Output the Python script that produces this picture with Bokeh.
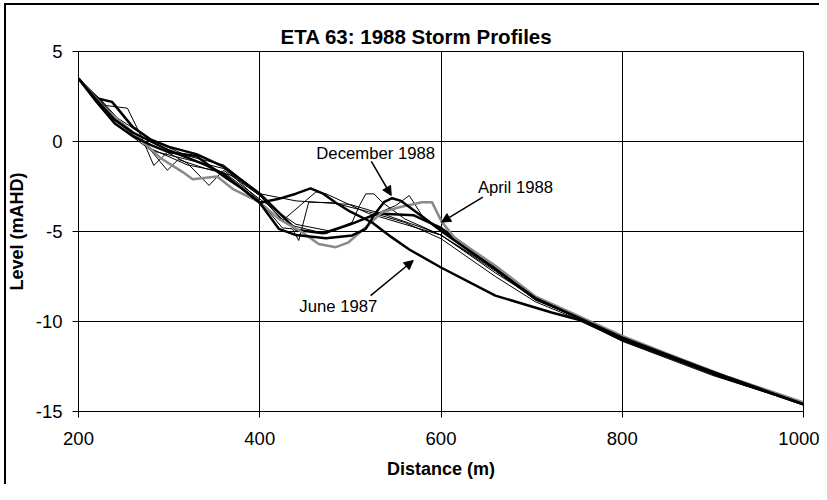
from bokeh.plotting import figure
from bokeh.models import FixedTicker, Label, Arrow, NormalHead, Range1d, CustomJSTickFormatter
from bokeh.embed import file_html
from bokeh.resources import INLINE

# ---- data (distance in m, level in mAHD) ----
june87_x = [200, 220, 240, 260, 280, 300, 320, 340, 360, 380, 400, 420, 440, 456, 470, 484, 500, 524, 545, 565, 600, 660, 722, 752, 800, 900, 1000]
june87_y = [3.5, 2.3, 1.2, 0.5, 0.0, -0.5, -0.9, -1.3, -1.8, -2.6, -3.4, -3.2, -2.9, -2.6, -2.9, -3.4, -3.9, -4.5, -5.3, -6.0, -7.0, -8.56, -9.5, -9.9, -11.0, -12.9, -14.6]

dec88_x = [200, 220, 240, 260, 280, 300, 330, 362, 380, 400, 421, 440, 473, 502, 517, 526, 537, 546, 556, 580, 601, 660, 704, 752, 800, 900, 1000]
dec88_y = [3.5, 2.2, 1.0, 0.3, -0.2, -0.6, -0.8, -2.0, -2.6, -3.4, -4.85, -5.2, -5.37, -5.22, -4.85, -4.1, -3.37, -3.15, -3.3, -4.2, -5.0, -7.1, -8.7, -9.8, -10.9, -12.8, -14.6]

apr88_x = [200, 230, 260, 290, 315, 326, 353, 370, 400, 421, 447, 465, 484, 498, 517, 535, 554, 579, 590, 601, 616, 660, 704, 752, 800, 850, 918, 1000]
apr88_y = [3.5, 1.8, 0.5, -0.9, -1.7, -2.1, -1.95, -2.63, -3.37, -4.3, -5.04, -5.69, -5.87, -5.6, -4.76, -3.93, -3.65, -3.37, -3.37, -4.48, -5.4, -6.9, -8.6, -9.7, -10.8, -11.8, -13.1, -14.5]

other_thick_x = [200, 220, 237, 260, 280, 300, 330, 360, 400, 440, 470, 500, 530, 570, 600, 660, 704, 752, 800, 900, 1000]
other_thick_y = [3.5, 2.4, 2.2, 0.8, 0.1, -0.3, -0.7, -1.4, -2.9, -4.9, -5.1, -4.6, -4.0, -4.1, -4.8, -7.0, -8.7, -9.8, -11.0, -12.9, -14.6]

thin1_x = [200, 230, 254, 270, 283, 298, 320, 344, 360, 380, 400, 425, 462, 473, 520, 560, 600, 660, 704, 752, 800, 900, 1000]
thin1_y = [3.5, 2.0, 1.85, 0.2, -1.33, -0.6, -1.2, -2.44, -1.6, -2.3, -3.0, -4.4, -2.8, -2.9, -4.0, -4.6, -5.2, -7.3, -8.7, -9.8, -11.0, -12.9, -14.6]

thin2_x = [200, 225, 250, 275, 298, 310, 340, 370, 400, 425, 436, 443, 454, 480, 520, 560, 600, 660, 704, 752, 800, 900, 1000]
thin2_y = [3.5, 2.3, 0.9, -0.2, -1.6, -1.0, -1.5, -1.9, -3.3, -4.8, -4.85, -5.5, -3.37, -3.4, -3.9, -4.5, -5.4, -7.5, -8.9, -9.9, -11.1, -13.0, -14.6]

thin3_x = [200, 240, 280, 320, 360, 400, 430, 473, 502, 510, 517, 526, 535, 560, 600, 660, 704, 752, 800, 900, 1000]
thin3_y = [3.5, 1.0, -0.5, -1.0, -1.5, -3.0, -4.6, -5.13, -4.48, -3.56, -2.91, -2.91, -3.37, -4.3, -5.2, -7.2, -8.8, -9.8, -11.0, -12.9, -14.6]

thin4_x = [200, 240, 280, 320, 360, 400, 440, 480, 520, 550, 565, 579, 600, 660, 704, 752, 800, 900, 1000]
thin4_y = [3.5, 1.2, -0.4, -1.3, -1.7, -3.2, -4.6, -5.0, -4.2, -3.56, -3.0, -4.11, -4.9, -7.0, -8.7, -9.7, -11.0, -12.9, -14.6]

thin5_x = [200, 240, 280, 320, 360, 400, 440, 470, 500, 540, 580, 600, 660, 704, 752, 800, 900, 1000]
thin5_y = [3.5, 1.4, 0.1, -0.8, -1.3, -2.9, -3.3, -3.4, -3.5, -4.1, -4.8, -5.2, -7.1, -8.8, -9.8, -11.0, -12.9, -14.6]

x_ticks = [200, 400, 600, 800, 1000]
y_ticks = [-15, -10, -5, 0, 5]

FONT = "Liberation Sans"

# chart-area border (only its left and top edges fall inside the window)
p = figure(width=819, height=484, output_backend="svg", toolbar_location=None,
           x_range=Range1d(200, 1000), y_range=Range1d(-15, 5),
           min_border_left=78, min_border_right=16, min_border_top=51, min_border_bottom=73,
           styles={"box-shadow": "inset 4px 3px 0 0 #ffffff, inset 6px 5px 0 0 #000000"})
p.border_fill_color = None
p.background_fill_color = "white"

p.title.text = "ETA 63: 1988 Storm Profiles"
p.title.align = "left"
p.title.offset = 202
p.title.standoff = 8
p.title.text_font = FONT
p.title.text_font_size = "20.5px"
p.title.text_font_style = "bold"
p.title.text_color = "black"

p.outline_line_color = "black"
p.outline_line_width = 1

for g in (p.xgrid, p.ygrid):
    g.grid_line_color = "black"
    g.grid_line_width = 1

fmt = CustomJSTickFormatter(code="return tick.toString();")
p.xaxis.ticker = FixedTicker(ticks=x_ticks)
p.yaxis.ticker = FixedTicker(ticks=y_ticks)
for ax in (p.xaxis, p.yaxis):
    ax.formatter = fmt
    ax.axis_line_color = "black"
    ax.major_tick_line_color = "black"
    ax.major_tick_out = 6
    ax.major_tick_in = 0
    ax.minor_tick_line_color = None
    ax.major_label_text_font = FONT
    ax.major_label_text_font_size = "18.5px"
    ax.major_label_text_color = "black"
    ax.axis_label_text_font = FONT
    ax.axis_label_text_font_size = "18px"
    ax.axis_label_text_font_style = "bold"
    ax.axis_label_text_color = "black"
p.xaxis.axis_label = "Distance (m)"
p.yaxis.axis_label = "Level (mAHD)"
p.xaxis.major_label_standoff = 14
p.xaxis.axis_label_standoff = 11
p.yaxis.major_label_standoff = 10
p.yaxis.axis_label_standoff = 6

thin = [(thin1_x, thin1_y), (thin2_x, thin2_y), (thin3_x, thin3_y), (thin4_x, thin4_y), (thin5_x, thin5_y)]
for xs, ys in thin:
    p.line(xs, ys, line_color="black", line_width=1, line_join="round")

p.line(other_thick_x, other_thick_y, line_color="black", line_width=2.5, line_join="round")
p.line(apr88_x, apr88_y, line_color="#8a8a8a", line_width=2.5, line_join="round")
p.line(june87_x, june87_y, line_color="black", line_width=2.5, line_join="round")
p.line(dec88_x, dec88_y, line_color="black", line_width=2.5, line_join="round")

def note(text, x, y):
    p.add_layout(Label(x=x, y=y, text=text, text_font=FONT, text_font_size="16.7px",
                       text_baseline="middle", text_align="left", text_color="black"))

def arrow(x0, y0, x1, y1):
    p.add_layout(Arrow(end=NormalHead(size=9, fill_color="black", line_color="black"),
                       x_start=x0, y_start=y0, x_end=x1, y_end=y1,
                       line_color="black", line_width=1.5))

note("December 1988", 462.4, -0.69)
arrow(523.1, -1.11, 545.1, -3.0)
note("June 1987", 443.7, -9.15)
arrow(522.3, -8.56, 569.4, -6.61)
note("April 1988", 640.7, -2.54)
arrow(646.2, -3.09, 600.6, -4.48)

open("out.html", "w").write(file_html(p, INLINE))
